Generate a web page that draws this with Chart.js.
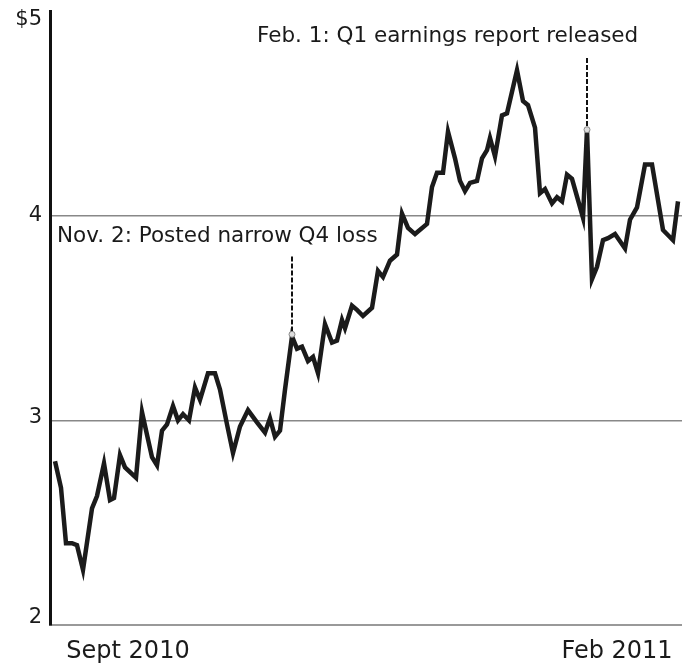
<!DOCTYPE html>
<html>
<head>
<meta charset="utf-8">
<script src="https://cdn.jsdelivr.net/npm/chart.js@4/dist/chart.umd.min.js"></script>
<style>
  html, body { margin: 0; padding: 0; background: #fff; }
  #wrap { width: 682px; height: 663px; }
</style>
</head>
<body>
<div id="wrap"><canvas id="c"></canvas></div>
<script>
// trading sessions since the start of Sept 2010
const sessions = [0, 1.2, 2.2, 3.4, 4.4, 5.6, 7.4, 8.4, 9.8, 11, 11.8, 13, 14, 16.2, 17.4, 18.4, 19.4, 20.4,
  21.4, 22.4, 23.6, 24.6, 25.6, 26.8, 28, 29, 30.6, 32, 33, 34.4, 35.6, 37, 38.6, 40.4, 42, 43, 44, 45, 46,
  47.4, 48.4, 49.4, 50.6, 51.6, 52.6, 54, 55.4, 56.4, 57.4, 58, 59.4, 60.4, 61.6, 63.4, 64.6, 65.6, 67, 68.4,
  69.4, 70.6, 72, 74.4, 75.4, 76.4, 77.6, 78.6, 80, 81, 82, 83, 84.4, 85.4, 86.4, 87, 88, 89.4, 90.4, 92.4,
  93.6, 94.6, 96, 97, 98, 99.4, 100.4, 101.4, 102.4, 103.4, 105.6, 106.4, 107.4, 108.4, 109.6, 110.6, 112,
  114, 115, 116.4, 118, 119.4, 121.6, 123.6, 124.6];
const prices = [2.80, 2.67, 2.40, 2.40, 2.39, 2.27, 2.57, 2.63, 2.79, 2.61, 2.62, 2.83, 2.77, 2.72, 3.04, 2.93, 2.82, 2.78,
  2.95, 2.98, 3.07, 3.00, 3.03, 3.00, 3.16, 3.10, 3.23, 3.23, 3.15, 2.98, 2.84, 2.97, 3.05, 2.99, 2.94, 3.01, 2.92, 2.95, 3.15,
  3.41, 3.35, 3.36, 3.29, 3.31, 3.23, 3.47, 3.38, 3.39, 3.49, 3.45, 3.56, 3.54, 3.51, 3.55, 3.73, 3.70, 3.78, 3.81,
  4.01, 3.94, 3.91, 3.96, 4.14, 4.21, 4.21, 4.41, 4.28, 4.17, 4.12, 4.16, 4.17, 4.28, 4.32, 4.38, 4.29, 4.49, 4.50, 4.71,
  4.56, 4.54, 4.43, 4.11, 4.13, 4.06, 4.09, 4.07, 4.20, 4.18, 3.99, 4.42, 3.69, 3.75, 3.88, 3.89, 3.91,
  3.84, 3.98, 4.04, 4.25, 4.25, 3.93, 3.88, 4.07];

const yTicks = [2, 3, 4, 5];
const yGridValues = [3, 4];
const xTickAt = [14.6, 112.4];
const xTickLabels = ['Sept 2010', 'Feb 2011'];

const noteSessions = [47.4, 106.4];
const notePrices = [3.42, 4.42];
const noteTops = [3.80, 4.77];
const noteTexts = ['Nov. 2: Posted narrow Q4 loss', 'Feb. 1: Q1 earnings report released'];

// where each note's text sits on the canvas
const noteTextPos = [[57, 242], [257, 42]];
// small vertical nudges for y labels at the ends of the axis
const yLabelNudge = { '$5': 9, '2': -7, '3': -3 };

const notes = {
  id: 'notes',
  beforeDraw(chart) {
    chart.scales.y.getLabelItems().forEach(it => {
      const n = yLabelNudge[String(it.label)];
      if (n && !it._nudged) { it.options.translation[1] += n; it._nudged = true; }
    });
  },
  afterDatasetsDraw(chart) {
    const { ctx, scales: { x, y } } = chart;
    ctx.save();
    noteSessions.forEach((s, i) => {
      const px = x.getPixelForValue(s);
      const py = y.getPixelForValue(notePrices[i]);
      ctx.strokeStyle = '#111';
      ctx.lineWidth = 2;
      ctx.setLineDash([5, 2]);
      ctx.beginPath();
      ctx.moveTo(px, y.getPixelForValue(noteTops[i]));
      ctx.lineTo(px, py - 3);
      ctx.stroke();
      ctx.setLineDash([]);
      ctx.beginPath();
      ctx.arc(px, py, 3, 0, Math.PI * 2);
      ctx.fillStyle = '#ddd';
      ctx.fill();
      ctx.strokeStyle = '#888';
      ctx.lineWidth = 1;
      ctx.stroke();
      ctx.font = '21.5px "DejaVu Sans"';
      ctx.fillStyle = '#1a1a1a';
      ctx.textBaseline = 'alphabetic';
      ctx.textAlign = 'left';
      ctx.fillText(noteTexts[i], noteTextPos[i][0], noteTextPos[i][1]);
    });
    ctx.restore();
  }
};

new Chart(document.getElementById('c'), {
  type: 'line',
  data: {
    datasets: [{
      data: sessions.map((s, i) => ({ x: s, y: prices[i] })),
      borderColor: '#1b1b1b',
      borderWidth: 4.5,
      pointRadius: 0,
      tension: 0,
      fill: false,
    }],
  },
  options: {
    responsive: true,
    maintainAspectRatio: false,
    animation: false,
    layout: { padding: { top: 11, right: 0, left: 0, bottom: 0 } },
    plugins: { legend: { display: false }, tooltip: { enabled: false } },
    scales: {
      x: {
        type: 'linear', min: -1, max: 125.4,
        afterFit(s) { s.height = 38; s.paddingLeft = 0; s.paddingRight = 0; },
        afterBuildTicks(s) { s.ticks = xTickAt.map(v => ({ value: v })); },
        ticks: {
          autoSkip: false, maxRotation: 0, padding: 12, color: '#1a1a1a',
          font: { family: 'DejaVu Sans', size: 24 },
          callback: (v, i) => xTickLabels[i],
        },
        grid: { display: false, drawTicks: false },
        border: { color: '#999', width: 2 },
      },
      y: {
        min: 2, max: 5,
        afterFit(s) { s.width = 50; s.paddingTop = 0; s.paddingBottom = 0; },
        afterBuildTicks(s) { s.ticks = yTicks.map(v => ({ value: v })); },
        ticks: {
          padding: 8, color: '#1a1a1a',
          font: { family: 'DejaVu Sans', size: 21 },
          callback: v => v === 5 ? '$5' : String(v),
        },
        grid: {
          drawTicks: false, lineWidth: 1.5,
          color: c => (c.tick && yGridValues.includes(c.tick.value)) ? '#888' : 'rgba(0,0,0,0)',
        },
        border: { color: '#111', width: 3 },
      },
    },
  },
  plugins: [notes],
});
</script>
</body>
</html>
